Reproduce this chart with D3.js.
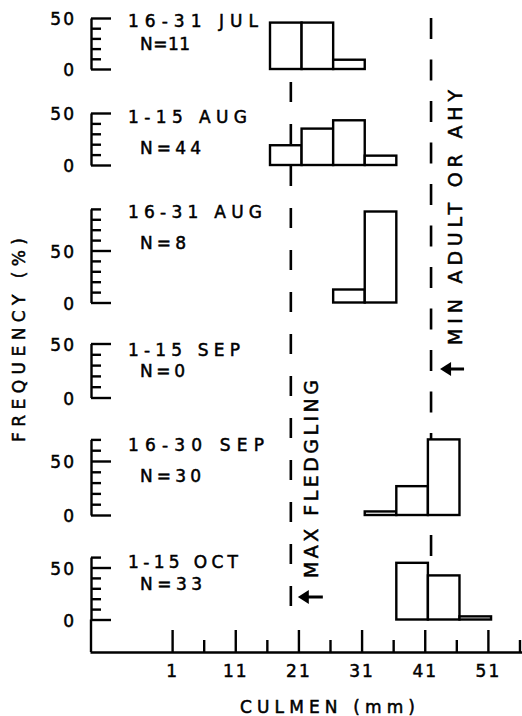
<!DOCTYPE html>
<html>
<head>
<meta charset="utf-8">
<script src="https://cdn.jsdelivr.net/npm/d3@7"></script>
<style>
  html, body { margin: 0; padding: 0; background: #fff; }
  svg { display: block; }
  text { font-family: "DejaVu Sans", sans-serif; font-weight: normal; fill: #000; stroke: #000; stroke-width: 0.5px; }
</style>
</head>
<body>
<svg id="chart" width="522" height="716"></svg>
<script>
// ---------------- DATA ----------------
const binStarts = [16.5, 21.5, 26.5, 31.5, 36.5, 41.5, 46.5];   // culmen bin lower edges (mm)
const binWidth = 5;
const periods = ["16-31 JUL", "1-15 AUG", "16-31 AUG", "1-15 SEP", "16-30 SEP", "1-15 OCT"];
const sampleSizes = [11, 44, 8, 0, 30, 33];
const freqJul16_31 = [45.5, 45.5, 9.1, null, null, null, null];
const freqAug1_15  = [19, 35, 43, 9, null, null, null];
const freqAug16_31 = [null, null, 12.5, 87.5, null, null, null];
const freqSep1_15  = [null, null, null, null, null, null, null];
const freqSep16_30 = [null, null, null, 3.3, 26.7, 70, null];
const freqOct1_15  = [null, null, null, null, 54.5, 42.4, 3.0];
const yAxisMax = [50, 50, 90, 50, 70, 60];
const yLabelTicks = [0, 50];
const xMajorTicks = [1, 11, 21, 31, 41, 51];
const xMinorTicks = [6, 16, 26, 36, 46, 56];
const maxFledgling = 19.8;
const minAdult = 42;

const series = [freqJul16_31, freqAug1_15, freqAug16_31, freqSep1_15, freqSep16_30, freqOct1_15];

// ---------------- LAYOUT ----------------
const panelZeroY = [69, 165, 302.5, 397.5, 515, 619.5];
const panelPx50  = [51, 52, 52, 54, 54, 52];
const titleBase  = [27, 123, 218, 356, 451, 568];
const nBase      = [50, 154, 249, 377, 482, 590];
const titleLen   = [130, 119, 134, 112, 136, 110];
const nLen       = [50, 61, 46, 45, 61, 62];
const axisX = 91, xAxisY = 652;
const lw = 2.4;
const fs = 17;

const svg = d3.select("#chart");
const x = d3.scaleLinear().domain([-12, 56.4]).range([90, 522]);

// reference dashed lines (drawn first so bars cover them)
const refs = [
  {v: maxFledgling, segs: [[82, 606]], dash: "20,22"},
  {v: minAdult, segs: [[18, 440], [535, 556]], dash: "21,20.5"}
];
refs.forEach(r => r.segs.forEach(s => {
  svg.append("line")
    .attr("x1", x(r.v)).attr("x2", x(r.v))
    .attr("y1", s[0]).attr("y2", s[1])
    .attr("stroke", "#000").attr("stroke-width", 2.6)
    .attr("stroke-dasharray", r.dash);
}));

// panels
series.forEach((vals, i) => {
  const top = yAxisMax[i];
  const y = d3.scaleLinear().domain([0, top])
    .range([panelZeroY[i], panelZeroY[i] - panelPx50[i] * top / 50]);
  const g = svg.append("g");
  const ax = d3.axisRight(y)
    .tickValues(d3.range(0, top + 1, 10))
    .tickSize(10).tickSizeOuter(0).tickFormat("");
  const axg = g.append("g").attr("transform", `translate(${axisX},0)`).call(ax);
  axg.select(".domain").attr("stroke-width", lw).attr("stroke", "#000");
  axg.selectAll(".tick line").attr("stroke-width", lw).attr("stroke", "#000")
    .attr("x2", d => (d === 0 || d === 50) ? 20 : 10);
  // tick labels
  yLabelTicks.forEach(t => {
    g.append("text").attr("x", 76).attr("y", y(t) + 7)
      .attr("text-anchor", "end").attr("font-size", fs).attr("letter-spacing", 2)
      .text(t);
  });
  // bars
  const data = binStarts.map((b, j) => ({b, v: vals[j]})).filter(d => d.v != null);
  g.selectAll("rect.bar").data(data).join("rect")
    .attr("class", "bar")
    .attr("x", d => x(d.b)).attr("width", d => x(d.b + binWidth) - x(d.b))
    .attr("y", d => y(d.v)).attr("height", d => y(0) - y(d.v))
    .attr("fill", "#fff").attr("stroke", "#000").attr("stroke-width", lw);
  // titles
  g.append("text").attr("x", 128).attr("y", titleBase[i]).attr("font-size", fs)
    .attr("textLength", titleLen[i]).attr("lengthAdjust", "spacing")
    .text(periods[i].replace(" ", "  "));
  g.append("text").attr("x", 140).attr("y", nBase[i]).attr("font-size", fs)
    .attr("textLength", nLen[i]).attr("lengthAdjust", "spacing")
    .text("N=" + sampleSizes[i]);
});

// extend last panel's axis to x axis
svg.append("line").attr("x1", axisX).attr("x2", axisX)
  .attr("y1", panelZeroY[5]).attr("y2", xAxisY)
  .attr("stroke", "#000").attr("stroke-width", lw);

// x axis
const xa = d3.axisBottom(x)
  .tickValues(xMajorTicks.concat(xMinorTicks))
  .tickSize(-12).tickSizeOuter(0).tickPadding(13)
  .tickFormat(d => xMajorTicks.includes(d) ? d : "");
const xg = svg.append("g").attr("transform", `translate(0,${xAxisY})`).call(xa);
xg.select(".domain").attr("stroke-width", lw).attr("stroke", "#000");
xg.selectAll(".tick line").attr("stroke-width", lw).attr("stroke", "#000")
  .attr("y2", d => xMajorTicks.includes(d) ? -22 : -12);
xg.selectAll(".tick text")
  .attr("font-family", "DejaVu Sans").attr("font-weight", "normal")
  .attr("font-size", fs).attr("letter-spacing", 2).attr("fill", "#000");

// axis titles
svg.append("text").attr("x", 240).attr("y", 713).attr("font-size", fs)
  .attr("textLength", 175).attr("lengthAdjust", "spacing").text("CULMEN (mm)");
svg.append("text").attr("transform", "translate(25,442) rotate(-90)")
  .attr("font-size", fs).attr("textLength", 204).attr("lengthAdjust", "spacing")
  .text("FREQUENCY (%)");

// rotated annotations
svg.append("text").attr("transform", "translate(318,578) rotate(-90)")
  .attr("font-size", 19).attr("textLength", 198).attr("lengthAdjust", "spacing")
  .text("MAX  FLEDGLING");
svg.append("text").attr("transform", "translate(462,345) rotate(-90)")
  .attr("font-size", 19).attr("textLength", 255).attr("lengthAdjust", "spacing")
  .text("MIN  ADULT  OR  AHY");

// arrows
function arrow(xTip, yc, len) {
  svg.append("path")
    .attr("d", `M${xTip},${yc} L${xTip + 11},${yc - 7} L${xTip + 11},${yc + 7} Z`)
    .attr("fill", "#000");
  svg.append("line").attr("x1", xTip + 8).attr("x2", xTip + len)
    .attr("y1", yc).attr("y2", yc).attr("stroke", "#000").attr("stroke-width", 3);
}
arrow(x(maxFledgling) + 7, 597, 25);
arrow(x(minAdult) + 9, 369, 24);
</script>
</body>
</html>
